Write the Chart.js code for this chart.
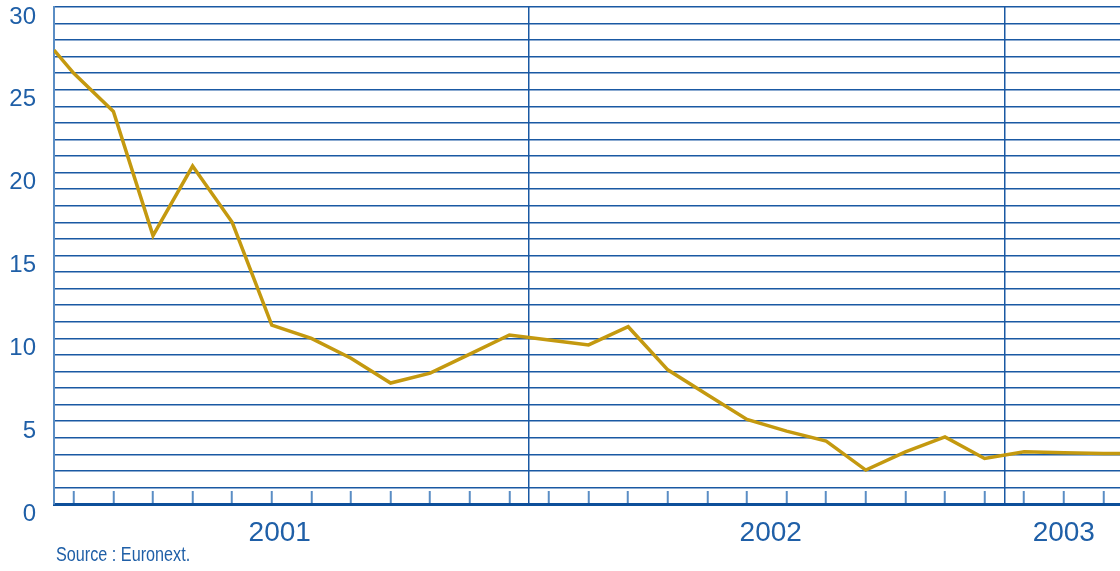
<!DOCTYPE html>
<html>
<head>
<meta charset="utf-8">
<script src="https://cdn.jsdelivr.net/npm/chart.js@4/dist/chart.umd.min.js"></script>
<style>
  body { margin: 0; background: #fff; overflow: hidden; }
  #wrap { position: relative; width: 1120px; height: 571px; }
  #source {
    position: absolute; left: 56px; top: 544px;
    font-family: "Liberation Sans", sans-serif;
    font-size: 20px; line-height: 20px; color: #1f5fa7;
    transform: scaleX(0.81); transform-origin: left top;
    white-space: nowrap;
  }
</style>
</head>
<body>
<div id="wrap">
  <canvas id="chart"></canvas>
  <div id="source">Source : Euronext.</div>
</div>
<script>
// positions en mois (0 = janvier 2001)
var monthPos = [-0.5, 0, 1, 2, 3, 4, 5, 6, 7, 8, 9, 10, 11, 12, 13, 14, 15, 16, 17, 18, 19, 20, 21, 22, 23, 24, 25, 26, 26.42];
var values = [27.4, 26.0, 23.7, 16.2, 20.4, 17.0, 10.8, 10.0, 8.8, 7.3, 7.9, 9.05, 10.2, 9.9, 9.6, 10.7, 8.1, 6.6, 5.1, 4.4, 3.8, 2.05, 3.15, 4.05, 2.75, 3.15, 3.1, 3.05, 3.05];

var years = ["2001", "2002", "2003"];
var yearLabelAt = [5.2, 17.6, 25];
var yearBounds = [11.5, 23.5];

var blue = "#1a59a3";
var lightBlue = "#5a8dc4";
var textBlue = "#1f5fa7";

var points = [];
for (var i = 0; i < monthPos.length; i++) {
  points.push({ x: monthPos[i], y: values[i] });
}

// ticks de l'axe x : mois + limites d'annees + libelles
var xTickValues = [];
for (var m = 0; m <= 26; m++) xTickValues.push(m);
yearBounds.concat(yearLabelAt).forEach(function(v) {
  if (xTickValues.indexOf(v) < 0) xTickValues.push(v);
});
xTickValues.sort(function(a, b) { return a - b; });

function noPadding(scale) {
  scale.paddingTop = 0;
  scale.paddingBottom = 0;
  scale.paddingLeft = 0;
  scale.paddingRight = 0;
}

new Chart(document.getElementById("chart"), {
  type: "line",
  data: {
    datasets: [
      {
        data: points,
        borderColor: "#c4990f",
        borderWidth: 3.5,
        pointRadius: 0,
        tension: 0,
        borderJoinStyle: "miter"
      }
    ]
  },
  options: {
    responsive: true,
    maintainAspectRatio: false,
    animation: false,
    layout: { padding: { top: 7, left: 0, right: 0, bottom: 0 } },
    plugins: { legend: { display: false }, tooltip: { enabled: false } },
    scales: {
      x: {
        type: "linear",
        min: -0.5,
        max: 26.42,
        afterBuildTicks: function(scale) {
          scale.ticks = xTickValues.map(function(v) { return { value: v }; });
        },
        afterFit: function(scale) {
          scale.height = 67;
          noPadding(scale);
        },
        grid: {
          color: function(ctx) {
            return ctx.tick && yearBounds.indexOf(ctx.tick.value) >= 0 ? blue : "rgba(0,0,0,0)";
          },
          tickColor: function(ctx) {
            return ctx.tick && Number.isInteger(ctx.tick.value) ? lightBlue : "rgba(0,0,0,0)";
          },
          lineWidth: 1.5,
          tickWidth: 2,
          tickLength: -13
        },
        border: { color: "#0d4f9a", width: 3 },
        ticks: {
          autoSkip: false,
          maxRotation: 0,
          padding: 25,
          color: textBlue,
          font: { family: "Liberation Sans", size: 28 },
          callback: function(value) {
            var i = yearLabelAt.indexOf(value);
            return i >= 0 ? years[i] : "";
          }
        }
      },
      y: {
        min: 0,
        max: 30,
        afterFit: function(scale) {
          scale.width = 54;
          noPadding(scale);
        },
        grid: { color: blue, lineWidth: 1.6, drawTicks: false },
        border: { color: lightBlue, width: 2 },
        ticks: {
          stepSize: 1,
          autoSkip: false,
          padding: 18,
          labelOffset: 10,
          color: textBlue,
          font: { family: "Liberation Sans", size: 24 },
          callback: function(value) {
            return value % 5 === 0 ? value : "";
          }
        }
      }
    }
  }
});
</script>
</body>
</html>
